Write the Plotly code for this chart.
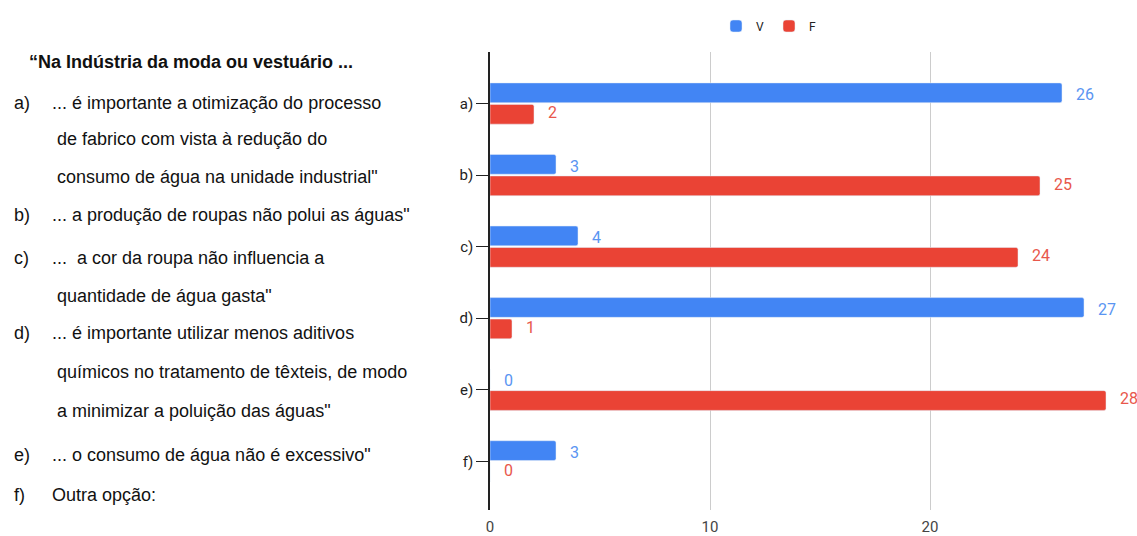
import plotly.graph_objects as go

# Survey answers: True (V) / False (F) counts per statement
categories = ["a)", "b)", "c)", "d)", "e)", "f)"]
v_counts = [26, 3, 4, 27, 0, 3]
f_counts = [2, 25, 24, 1, 28, 0]

title_line = "“Na Indústria da moda ou vestuário ..."
statement_items = [
    ("a)", ["... é importante a otimização do processo",
            " de fabrico com vista à redução do",
            " consumo de água na unidade industrial\""]),
    ("b)", ["... a produção de roupas não polui as águas\""]),
    ("c)", ["...  a cor da roupa não influencia a",
            " quantidade de água gasta\""]),
    ("d)", ["... é importante utilizar menos aditivos",
            " químicos no tratamento de têxteis, de modo",
            " a minimizar a poluição das águas\""]),
    ("e)", ["... o consumo de água não é excessivo\""]),
    ("f)", ["Outra opção:"]),
]

BLUE = "#4285F4"
RED = "#EA4335"
BLUE_TXT = "#5a95f2"
RED_TXT = "#e8574b"

W, H = 1137, 536
ML, MR, MT, MB = 490, 9, 52, 26
PW = W - ML - MR
PH = H - MT - MB

def px_x(px):
    return (px - ML) / PW

def px_y(py):
    return 1 - (py - MT) / PH

fig = go.Figure()
fig.add_trace(go.Bar(name="V", y=categories, x=v_counts, orientation="h",
                     marker=dict(color=BLUE, cornerradius=2)))
fig.add_trace(go.Bar(name="F", y=categories, x=f_counts, orientation="h",
                     marker=dict(color=RED, cornerradius=2)))

annotations = []
# value labels next to each bar
for i, cat in enumerate(categories):
    for val, color, off in ((v_counts[i], BLUE_TXT, -0.125), (f_counts[i], RED_TXT, 0.125)):
        annotations.append(dict(x=val, y=i + off, xref="x", yref="y", text=str(val),
                                showarrow=False, xanchor="left", yanchor="middle",
                                xshift=12, font=dict(size=16, color=color,
                                                     family="Roboto, sans-serif")))

# statement text on the left
TXT_FONT = "Liberation Sans, Arial, sans-serif"
TXT_SIZE = 18
annotations.append(dict(x=px_x(27), y=px_y(62), xref="paper", yref="paper",
                        text="<b>" + title_line + "</b>", showarrow=False,
                        xanchor="left", yanchor="middle",
                        font=dict(size=TXT_SIZE, color="#111", family=TXT_FONT)))
line_y = [103, 139, 177, 215, 258, 296, 333, 372, 411, 455, 495]
k = 0
for label, lines in statement_items:
    annotations.append(dict(x=px_x(12), y=px_y(line_y[k]), xref="paper", yref="paper",
                            text=label, showarrow=False, xanchor="left", yanchor="middle",
                            font=dict(size=TXT_SIZE, color="#111", family=TXT_FONT)))
    for j, ln in enumerate(lines):
        annotations.append(dict(x=px_x(50), y=px_y(line_y[k]), xref="paper",
                                yref="paper", text=ln.replace(" ", "&nbsp;", 1) if ln.startswith(" ") else ln,
                                showarrow=False, xanchor="left", yanchor="middle",
                                font=dict(size=TXT_SIZE, color="#111", family=TXT_FONT)))
        k += 1

fig.update_layout(
    width=W, height=H,
    margin=dict(l=ML, r=MR, t=MT, b=MB),
    paper_bgcolor="white", plot_bgcolor="white",
    barmode="group", bargap=0.4, bargroupgap=0.08,
    legend=dict(orientation="h", x=px_x(716), y=px_y(26), xanchor="left", yanchor="middle",
                font=dict(size=12, color="#222", family="Roboto, sans-serif"),
                itemwidth=30, traceorder="normal"),
    annotations=annotations,
    font=dict(family="Roboto, sans-serif"),
)
fig.update_xaxes(range=[0, 29], tickvals=[0, 10, 20], showgrid=True, gridcolor="#cccccc",
                 zeroline=False, showline=False, ticks="", ticklabelstandoff=6,
                 automargin=False,
                 tickfont=dict(size=15, color="#444", family="Roboto, sans-serif"))
fig.update_yaxes(range=[5.68, -0.72], showline=True, linecolor="#222", linewidth=1.5,
                 ticks="outside", ticklen=12, tickcolor="#222", showgrid=False,
                 automargin=False,
                 tickfont=dict(size=15, color="#222", family="Roboto, sans-serif"))

fig.write_html("out.html")
